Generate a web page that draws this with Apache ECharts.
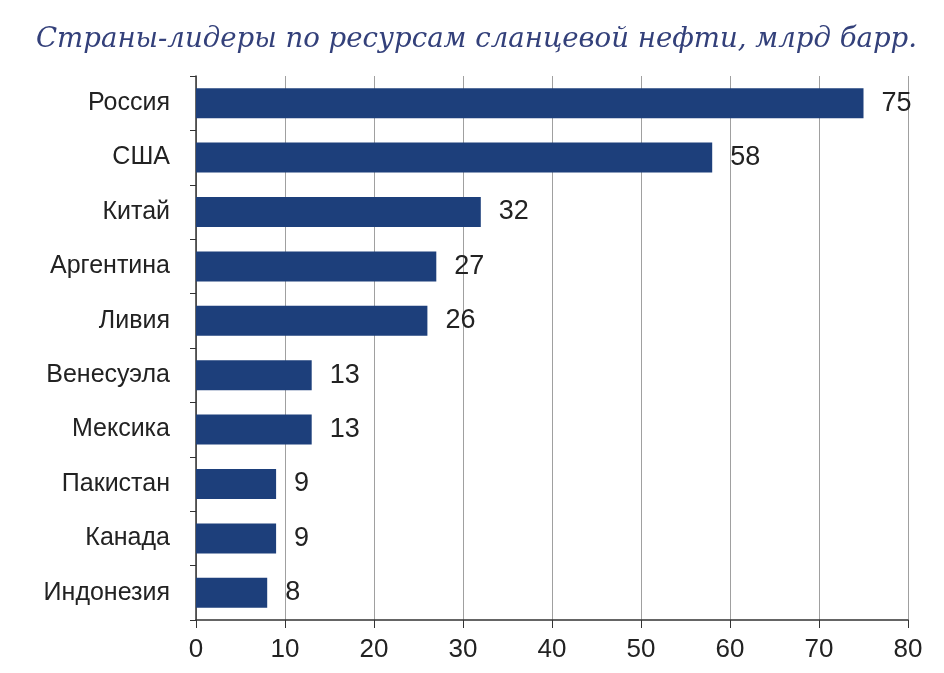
<!DOCTYPE html>
<html>
<head>
<meta charset="utf-8">
<script src="https://cdn.jsdelivr.net/npm/echarts@6/dist/echarts.min.js"></script>
<style>
  html, body { margin: 0; padding: 0; background: #ffffff; }
  #chart { width: 944px; height: 673px; }
</style>
</head>
<body>
<div id="chart"></div>
<script>
// Shale oil resources by country, billion barrels
const countries = ['Россия', 'США', 'Китай', 'Аргентина', 'Ливия', 'Венесуэла', 'Мексика', 'Пакистан', 'Канада', 'Индонезия'];
const resources = [75, 58, 32, 27, 26, 13, 13, 9, 9, 8];
const xTicks = [0, 10, 20, 30, 40, 50, 60, 70, 80];
const titleText = 'Страны-лидеры по ресурсам сланцевой нефти, млрд барр.';

const sans = "'Liberation Sans Narrow', 'Arial Narrow', 'Liberation Sans', sans-serif";

const chart = echarts.init(document.getElementById('chart'));
chart.setOption({
  backgroundColor: '#ffffff',
  animation: false,
  title: {
    text: titleText,
    left: 31,
    top: 21,
    textStyle: {
      fontFamily: "'DejaVu Serif', serif",
      fontStyle: 'italic',
      fontWeight: 'normal',
      fontSize: 27.6,
      color: '#33407a'
    }
  },
  grid: { left: 196, right: 36, top: 76, bottom: 53 },
  xAxis: {
    type: 'value',
    min: xTicks[0],
    max: xTicks[xTicks.length - 1],
    interval: 10,
    axisLine: { show: true, lineStyle: { color: '#333333', width: 1.5 } },
    axisTick: { show: true, length: 8, lineStyle: { color: '#333333' } },
    axisLabel: { fontFamily: sans, fontSize: 26, color: '#222222', margin: 17 },
    splitLine: { show: true, lineStyle: { color: '#a0a0a0', width: 1 } }
  },
  yAxis: {
    type: 'category',
    data: countries,
    inverse: true,
    axisLine: { show: true, lineStyle: { color: '#333333', width: 1.5 } },
    axisTick: { show: true, length: 6, lineStyle: { color: '#333333' } },
    axisLabel: { fontFamily: sans, fontSize: 25, color: '#222222', margin: 26 }
  },
  series: [{
    type: 'bar',
    data: resources,
    barWidth: 30,
    itemStyle: { color: '#1d3f7b' },
    label: {
      show: true,
      position: 'right',
      distance: 18,
      fontFamily: sans,
      fontSize: 27,
      color: '#222222'
    }
  }]
});
</script>
</body>
</html>
